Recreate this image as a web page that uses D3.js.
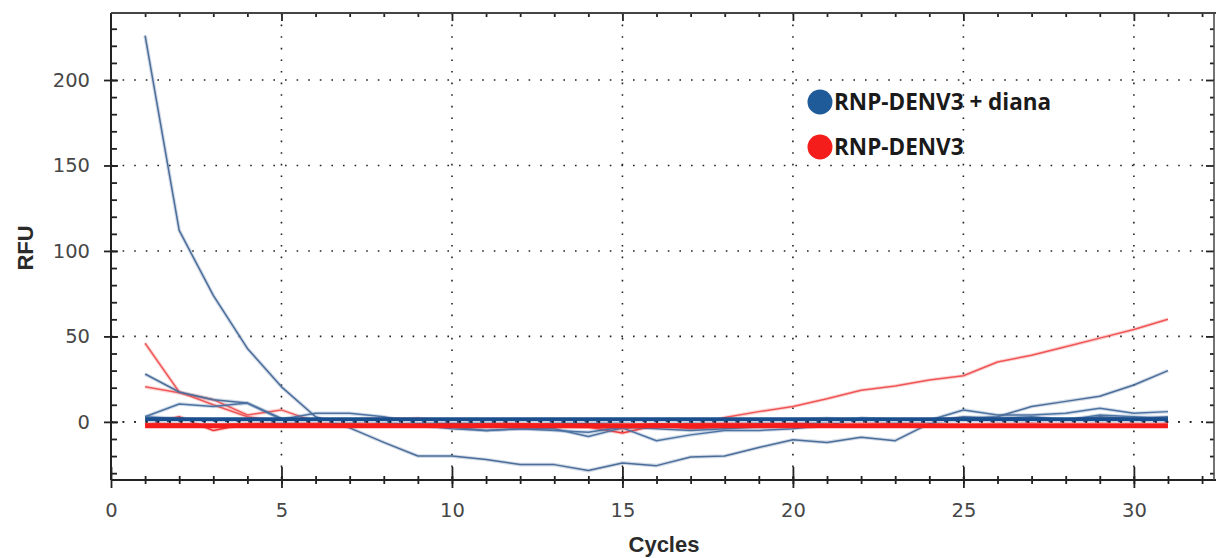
<!DOCTYPE html>
<html>
<head>
<meta charset="utf-8">
<script src="https://cdn.jsdelivr.net/npm/d3@7"></script>
<style>
  body{margin:0;background:#fff;}
  .tl{font-family:"DejaVu Sans",sans-serif;font-size:19.5px;fill:#474747;}
  .ttl{font-family:"Liberation Sans",Arial,sans-serif;font-size:22px;font-weight:bold;fill:#2a2a2a;}
  .leg{font-family:"Open Sans",sans-serif;font-size:22.5px;font-weight:bold;fill:#1a1a1a;}
</style>
</head>
<body>
<svg id="chart" width="1216" height="558"></svg>
<script>
// cycles 1..31
const cycles = d3.range(1, 32);

// RNP-DENV3 + diana (blue traces)
const blueDecay = [226,112,74,43,20.5,3,-3.5,-12,-20,-20,-22,-25,-25,-28.5,-24,-25.6,-20.5,-20,-15,-10.5,-12,-9,-11,-1,2,3,9,12,15,21.6,30];
const blueHigh  = [28,17.5,13,11,2,1,0,1,0,-1,0,1,0,-1,0,1,0,1,0,1,2,1,0,1,2,1,2,1,3,2,3];
const blueBump  = [3,10.5,9,11,1.5,5,5,3,-1,-3,-5,-4,-5,-6,-3,-4,-5,-4,-3,-2,0,2,1,0,3,2,3,1,4,3,2];
const blueNoise = [3,2,1,1,0,1,1,0,-2,-4,-5,-4,-4,-8.5,-3.5,-11,-7.6,-5,-5,-4,-2,2,1,1,7,4,4,5,8,5,6];
const blueFlat  = [1.2,1.2,1.2,1.2,1.2,1.2,1.2,1.2,1.2,1.2,1.2,1.2,1.2,1.2,1.2,1.2,1.2,1.2,1.2,1.2,1.2,1.2,1.2,1.2,1.2,1.2,1.2,1.2,1.2,1.2,1.2];

// RNP-DENV3 (red traces)
const redHigh   = [46,17.5,10,3,0,-1,0,1,0,-1,-2,-1,-2,-1,-3,-2,-1,0,-1,0,1,0,-1,0,1,0,1,0,1,0,1];
const redMid    = [20.5,17,13,4,7,0,-1,1,2,0,-1,-2,-1,-2,-2,-1,-2,-1,0,-1,0,1,0,1,2,1,0,1,2,1,1];
const redRise   = [-1,-1,-2,-1,0,-1,-2,-1,-2,-2,-1,-2,-3,-3,-4,-2,-3,2.5,6,9,13.5,18.5,21,24.5,27,35,39,44,49,54,60];
const redNoise  = [-2,3,-5,-1,-1,0,1,2,1,-1,0,-1,-2,-3,-6.5,-2,-4,-3,-2,-1,0,1,0,1,2,1,0,1,0,1,0];
const redFlat   = [-2.3,-2.3,-2.3,-2.3,-2.3,-2.3,-2.3,-2.3,-2.3,-2.3,-2.3,-2.3,-2.3,-2.3,-2.3,-2.3,-2.3,-2.3,-2.3,-2.3,-2.3,-2.3,-2.3,-2.3,-2.3,-2.3,-2.3,-2.3,-2.3,-2.3,-2.3];

const xMajor = [0,5,10,15,20,25,30];
const yMajor = [0,50,100,150,200];
const legendNames = ["RNP-DENV3 + diana","RNP-DENV3"];
const legendColors = ["#1f5a99","#f51c1c"];

const svg = d3.select("#chart");
const mLeft=111, mRight=1214, mTop=13, mBottom=480;

const x = d3.scaleLinear().domain([0,32.35]).range([mLeft,mRight]);
const y = d3.scaleLinear().domain([-34,239.2]).range([mBottom,mTop]);

// grid, dotted
const grid = svg.append("g");
grid.selectAll(".gx").data(xMajor.slice(1)).enter().append("line")
    .attr("x1",d=>x(d)).attr("x2",d=>x(d)).attr("y1",mTop).attr("y2",mBottom)
    .attr("stroke","#222").attr("stroke-width",1.6).attr("stroke-dasharray","1.6,10")
grid.selectAll(".gy").data(yMajor).enter().append("line")
    .attr("x1",mLeft).attr("x2",mRight).attr("y1",d=>y(d)).attr("y2",d=>y(d))
    .attr("stroke","#222").attr("stroke-width",1.6).attr("stroke-dasharray","1.6,10")

const line = d3.line().x((d,i)=>x(cycles[i])).y(d=>y(d));

function trace(data,color,w){
  svg.append("path").datum(data).attr("d",line).attr("fill","none")
     .attr("stroke",color).attr("stroke-opacity",0.25).attr("stroke-width",w+2.2)
     .attr("stroke-linejoin","round");
  svg.append("path").datum(data).attr("d",line).attr("fill","none")
     .attr("stroke",color).attr("stroke-width",w).attr("stroke-linejoin","round");
}

trace(redHigh,"#f05a5a",1.5);
trace(redMid,"#f05a5a",1.5);
trace(redNoise,"#f03a3a",1.6);
trace(redRise,"#f05555",1.5);
trace(blueHigh,"#4d6f9c",1.5);
trace(blueBump,"#4d73a3",1.5);
trace(blueNoise,"#4d73a3",1.5);
trace(blueDecay,"#4a6d9a",1.5);

svg.append("path").datum(redFlat).attr("d",line).attr("fill","none")
   .attr("stroke","#f51c1c").attr("stroke-width",5);
svg.append("path").datum(blueFlat).attr("d",line).attr("fill","none")
   .attr("stroke","#1b4e8c").attr("stroke-width",5);

// zero line drawn over the traces
svg.append("line").attr("x1",x(1)).attr("x2",x(31)).attr("y1",y(0)).attr("y2",y(0))
   .attr("stroke","#fff").attr("stroke-width",1.4).attr("stroke-dasharray","7.5,4.1").attr("stroke-dashoffset",-2.8);
svg.append("line").attr("x1",mLeft).attr("x2",mRight).attr("y1",y(0)).attr("y2",y(0))
   .attr("stroke","#222").attr("stroke-width",1.6).attr("stroke-dasharray","1.6,10");

// axes
const axisColor="#222";
function style(g){
  g.select(".domain").remove();
  g.selectAll("line").attr("stroke",axisColor).attr("stroke-width",1.8);
}
// bottom
const gb = svg.append("g").attr("transform",`translate(0,${mBottom})`);
gb.call(d3.axisBottom(x).tickValues(d3.range(1,33)).tickSize(4).tickFormat("")).call(style);
gb.selectAll("line").attr("y1",-4);
const gb2 = svg.append("g").attr("transform",`translate(0,${mBottom})`);
gb2.call(d3.axisBottom(x).tickValues(xMajor).tickSize(8).tickPadding(15).tickFormat(d3.format("d"))).call(style);
gb2.selectAll("line").attr("y1",-13);
gb2.selectAll("text").attr("class","tl");
// top
const gt = svg.append("g").attr("transform",`translate(0,${mTop})`);
gt.call(d3.axisBottom(x).tickValues(d3.range(1,33)).tickSize(4).tickFormat("")).call(style);
gt.selectAll(".tick line").filter(d=>d%5==0).attr("y2",8);
// left
const gl = svg.append("g").attr("transform",`translate(${mLeft},0)`);
gl.call(d3.axisRight(y).tickValues(d3.range(-30,240,10)).tickSize(6).tickFormat("")).call(style);
const gl2 = svg.append("g").attr("transform",`translate(${mLeft},0)`);
gl2.call(d3.axisLeft(y).tickValues(yMajor).tickSize(7).tickPadding(14).tickFormat(d3.format("d"))).call(style);
gl2.selectAll("line").attr("x1",7);
gl2.selectAll("text").attr("class","tl");
// right
const gr = svg.append("g").attr("transform",`translate(${mRight},0)`);
gr.call(d3.axisLeft(y).tickValues(d3.range(-30,240,10)).tickSize(4).tickFormat("")).call(style);
gr.selectAll(".tick line").filter(d=>d%50==0).attr("x2",-8);

// frame
svg.append("line").attr("x1",mLeft).attr("x2",mLeft).attr("y1",mTop).attr("y2",mBottom).attr("stroke",axisColor).attr("stroke-width",2);
svg.append("line").attr("x1",mLeft).attr("x2",mRight+2).attr("y1",mBottom).attr("y2",mBottom).attr("stroke",axisColor).attr("stroke-width",2);
svg.append("line").attr("x1",mLeft).attr("x2",mRight+2).attr("y1",mTop).attr("y2",mTop).attr("stroke","#444").attr("stroke-width",2);
svg.append("line").attr("x1",mRight).attr("x2",mRight).attr("y1",mTop).attr("y2",mBottom).attr("stroke","#444").attr("stroke-width",1.5);

// titles
svg.append("text").attr("class","ttl").attr("x",664).attr("y",552).attr("text-anchor","middle").text("Cycles");
svg.append("text").attr("class","ttl").attr("transform","translate(33,248) rotate(-90)").attr("text-anchor","middle").text("RFU");

// legend
const legend = svg.append("g").attr("transform","translate(820,102)");
legend.selectAll("circle").data(legendNames).enter().append("circle")
  .attr("cx",0).attr("cy",(d,i)=>45*i).attr("r",12.5).attr("fill",(d,i)=>legendColors[i]);
legend.selectAll("text").data(legendNames).enter().append("text")
  .attr("class","leg").attr("x",14).attr("y",(d,i)=>45*i+8).text(d=>d);
</script>
</body>
</html>
